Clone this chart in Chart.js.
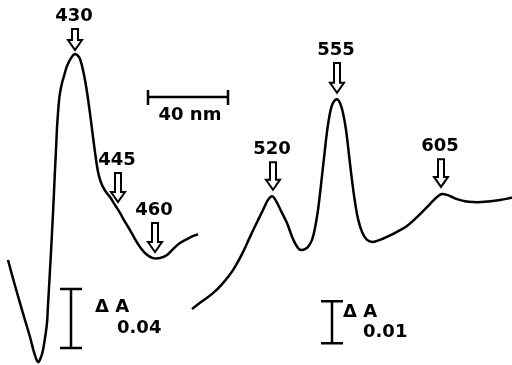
<!DOCTYPE html>
<html>
<head>
<meta charset="utf-8">
<script src="https://cdn.jsdelivr.net/npm/chart.js@4"></script>
<style>
  html, body { margin: 0; padding: 0; background: #fff; }
  #wrap { width: 512px; height: 365px; position: relative; }
</style>
</head>
<body>
<div id="wrap"><canvas id="spec"></canvas></div>
<script>
// Soret region trace (left), wavelength in nm, dA on the 0.04 scale
const soretNm = [396, 399, 402, 404.5, 407, 409, 411, 412.5, 413.5, 414.5, 415.5, 416, 416.5, 417, 417.5,
  418, 418.5, 419, 419.5, 420, 420.5, 421, 421.5, 422, 423, 424, 425.5, 427.5, 429.5, 431.5, 432.5, 433.5,
  434.5, 435.5, 436.5, 437.5, 438.5, 439.5, 440.5, 441.5, 443, 445, 447, 449.5, 452, 454.5, 457, 459.5,
  462, 465, 468.5, 472, 475.5, 478.5, 482, 486.5, 491];
const soretDA = [0.0712, 0.0563, 0.0420, 0.0305, 0.0190, 0.0088, 0.0020, 0.0054, 0.0102, 0.0183, 0.0285,
  0.0407, 0.0522, 0.0644, 0.0766, 0.0895, 0.1031, 0.1173, 0.1322, 0.1458, 0.1607, 0.1709, 0.1790, 0.1844,
  0.1912, 0.1959, 0.2027, 0.2081, 0.2109, 0.2088, 0.2054, 0.2000, 0.1932, 0.1851, 0.1756, 0.1654, 0.1546,
  0.1444, 0.1349, 0.1281, 0.1220, 0.1173, 0.1139, 0.1085, 0.1031, 0.0970, 0.0915, 0.0854, 0.0800, 0.0753,
  0.0725, 0.0725, 0.0746, 0.0786, 0.0827, 0.0861, 0.0888];

// visible region trace (right), dA on the 0.01 scale
const visNm = [488, 492, 498.5, 503.5, 508.5, 513, 517, 520.5, 523.5, 526, 528, 529.5, 532.5, 535.5, 537.5,
  539.5, 541.5, 543, 544.5, 546, 548, 549.5, 551, 552.5, 554, 555.5, 557, 558.5, 560.5, 562, 563.5, 565,
  566.5, 568, 569.5, 571, 573, 575.5, 578.5, 582, 585.5, 590.5, 595.5, 600.5, 605.5, 609, 611, 613, 615.5,
  618, 620.5, 624.5, 628.5, 633, 637, 642, 648];
const visDA = [0.0133, 0.0148, 0.0171, 0.0195, 0.0226, 0.0264, 0.0305, 0.0340, 0.0369, 0.0393, 0.0402,
  0.0395, 0.0367, 0.0338, 0.0312, 0.0290, 0.0276, 0.0274, 0.0276, 0.0281, 0.0298, 0.0326, 0.0369, 0.0429,
  0.0493, 0.0555, 0.0600, 0.0624, 0.0633, 0.0624, 0.0600, 0.0560, 0.0500, 0.0440, 0.0388, 0.0348, 0.0317,
  0.0298, 0.0293, 0.0298, 0.0305, 0.0317, 0.0331, 0.0352, 0.0376, 0.0393, 0.0402, 0.0407, 0.0405, 0.0400,
  0.0395, 0.0390, 0.0388, 0.0388, 0.0390, 0.0393, 0.0398];

// peak markers: label, arrow x (nm), arrow top / tip (dA), axis
const markLabels = ["430", "445", "460", "520", "555", "605"];
const markNm = [429.5, 451, 469.5, 528.5, 560.5, 612.5];
const markTop = [0.2278, 0.1302, 0.0963, 0.0483, 0.0719, 0.0490];
const markTip = [0.2136, 0.1105, 0.0766, 0.0417, 0.0648, 0.0424];
const markAxis = ["yL", "yL", "yL", "yR", "yR", "yR"];

// scale bars
const nmBar = { from: 466, to: 506, at: 0.1817, label: "40 nm" };
const daBars = [
  { axis: "yL", nm: 427.5, from: 0.0115, to: 0.0515, label: "0.04" },
  { axis: "yR", nm: 558, from: 0.0052, to: 0.0152, label: "0.01" }
];

const ink = "#000";
const font = "bold 18px 'DejaVu Sans'";

function pts(xs, ys) {
  return xs.map((x, i) => ({ x: x, y: ys[i] }));
}

function downArrow(ctx, x, top, tip) {
  const sw = 3, hw = 7, hh = 10;
  ctx.beginPath();
  ctx.moveTo(x - sw, top);
  ctx.lineTo(x - sw, tip - hh);
  ctx.lineTo(x - hw, tip - hh);
  ctx.lineTo(x, tip);
  ctx.lineTo(x + hw, tip - hh);
  ctx.lineTo(x + sw, tip - hh);
  ctx.lineTo(x + sw, top);
  ctx.closePath();
  ctx.stroke();
}

const annotate = {
  id: "annotate",
  afterDatasetsDraw(chart) {
    const ctx = chart.ctx;
    const sx = chart.scales.x;
    ctx.save();
    ctx.strokeStyle = ink;
    ctx.fillStyle = ink;
    ctx.lineWidth = 2;
    ctx.font = font;
    ctx.textAlign = "center";
    ctx.textBaseline = "middle";

    // peak arrows + labels
    markLabels.forEach((lab, i) => {
      const sy = chart.scales[markAxis[i]];
      const x = sx.getPixelForValue(markNm[i]);
      const top = sy.getPixelForValue(markTop[i]);
      const tip = sy.getPixelForValue(markTip[i]);
      downArrow(ctx, x, top, tip);
      ctx.fillText(lab, x - 1, top - 13);
    });

    // 40 nm bar
    ctx.lineWidth = 2.5;
    const x0 = sx.getPixelForValue(nmBar.from);
    const x1 = sx.getPixelForValue(nmBar.to);
    const yb = chart.scales.yL.getPixelForValue(nmBar.at);
    ctx.beginPath();
    ctx.moveTo(x0, yb); ctx.lineTo(x1, yb);
    ctx.moveTo(x0, yb - 7); ctx.lineTo(x0, yb + 8);
    ctx.moveTo(x1, yb - 7); ctx.lineTo(x1, yb + 8);
    ctx.stroke();
    ctx.fillText(nmBar.label, (x0 + x1) / 2 + 2, yb + 18);

    // dA bars
    const offs = [[24, 18, 46, 39], [11, 11, 31, 31]];
    daBars.forEach((b, i) => {
      const sy = chart.scales[b.axis];
      const x = sx.getPixelForValue(b.nm);
      const yt = sy.getPixelForValue(b.to);
      const ybot = sy.getPixelForValue(b.from);
      ctx.beginPath();
      ctx.moveTo(x, yt); ctx.lineTo(x, ybot);
      ctx.moveTo(x - 11, yt); ctx.lineTo(x + 11, yt);
      ctx.moveTo(x - 11, ybot); ctx.lineTo(x + 11, ybot);
      ctx.stroke();
      ctx.textAlign = "left";
      const o = offs[i];
      ctx.fillText("\u0394 A", x + o[0], yt + o[1]);
      ctx.fillText(b.label, x + o[2], yt + o[3]);
      ctx.textAlign = "center";
    });
    ctx.restore();
  }
};

new Chart(document.getElementById("spec"), {
  type: "line",
  data: {
    datasets: [
      {
        label: "Soret",
        data: pts(soretNm, soretDA),
        yAxisID: "yL",
        borderColor: ink,
        borderWidth: 2.5,
        pointRadius: 0,
        fill: false,
        tension: 0.4
      },
      {
        label: "visible",
        data: pts(visNm, visDA),
        yAxisID: "yR",
        borderColor: ink,
        borderWidth: 2.5,
        pointRadius: 0,
        fill: false,
        tension: 0.4
      }
    ]
  },
  options: {
    responsive: true,
    maintainAspectRatio: false,
    animation: false,
    clip: false,
    layout: { padding: 0 },
    scales: {
      x: { type: "linear", min: 392, max: 648, display: false },
      yL: { type: "linear", min: 0, max: 0.2475, display: false },
      yR: { type: "linear", min: 0, max: 0.0869, display: false }
    },
    plugins: {
      legend: { display: false },
      tooltip: { enabled: false }
    }
  },
  plugins: [annotate]
});
</script>
</body>
</html>
